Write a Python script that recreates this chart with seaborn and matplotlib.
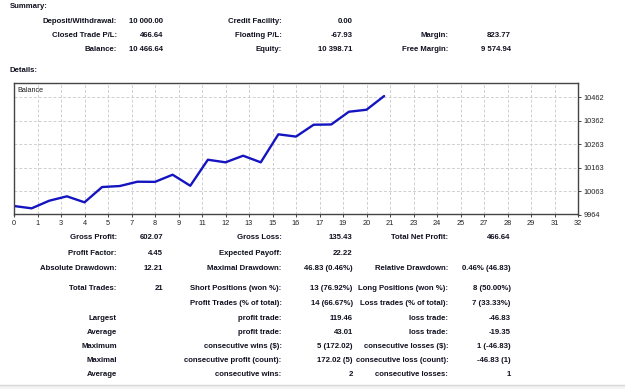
import numpy as np
import pandas as pd
import matplotlib
matplotlib.use("Agg")
import matplotlib.pyplot as plt
import seaborn as sns

# ---------------- data ----------------
trade_no = list(range(22))
balance = [10000.00, 9990.20, 10022.50, 10041.10, 10015.70, 10080.60, 10084.80,
           10103.10, 10102.50, 10132.80, 10085.97, 10196.40, 10185.40, 10213.40,
           10185.40, 10304.20, 10294.62, 10344.90, 10346.00, 10400.00, 10408.50,
           10466.64]

x_tick_labels = ["0", "1", "3", "4", "5", "7", "8", "9", "11", "12", "13", "15", "16",
                 "17", "19", "20", "21", "23", "24", "25", "27", "28", "29", "31", "32"]
y_tick_labels = ["9964", "10063", "10163", "10263", "10362", "10462"]
y_tick_values = [9964.0, 10063.6, 10163.2, 10262.8, 10362.4, 10462.0]

summary_rows = [
    ["Deposit/Withdrawal:", "10 000.00", "Credit Facility:", "0.00", "", ""],
    ["Closed Trade P/L:", "466.64", "Floating P/L:", "-67.93", "Margin:", "823.77"],
    ["Balance:", "10 466.64", "Equity:", "10 398.71", "Free Margin:", "9 574.94"],
]
details_rows = [
    ["Gross Profit:", "602.07", "Gross Loss:", "135.43", "Total Net Profit:", "466.64"],
    ["Profit Factor:", "4.45", "Expected Payoff:", "22.22", "", ""],
    ["Absolute Drawdown:", "12.21", "Maximal Drawdown:", "46.83 (0.46%)", "Relative Drawdown:", "0.46% (46.83)"],
    ["Total Trades:", "21", "Short Positions (won %):", "13 (76.92%)", "Long Positions (won %):", "8 (50.00%)"],
    ["", "", "Profit Trades (% of total):", "14 (66.67%)", "Loss trades (% of total):", "7 (33.33%)"],
    ["Largest", "", "profit trade:", "119.46", "loss trade:", "-46.83"],
    ["Average", "", "profit trade:", "43.01", "loss trade:", "-19.35"],
    ["Maximum", "", "consecutive wins ($):", "5 (172.02)", "consecutive losses ($):", "1 (-46.83)"],
    ["Maximal", "", "consecutive profit (count):", "172.02 (5)", "consecutive loss (count):", "-46.83 (1)"],
    ["Average", "", "consecutive wins:", "2", "consecutive losses:", "1"],
]

# ---------------- figure ----------------
sns.set_style("white")
plt.rcParams["font.family"] = ["Liberation Sans", "DejaVu Sans"]

W, H = 625, 389
fig = plt.figure(figsize=(W / 100, H / 100), dpi=100)
fig.patch.set_facecolor("white")

def fx(x):
    return x / W

def fy(y):
    return 1 - y / H

TXT = "#101020"
FS = 5.6

# summary block
fig.text(fx(10), fy(6.5), "Summary:", fontsize=FS, fontweight="bold", color=TXT, va="center", ha="left")
col_right = [116.7, 163.3, 281.7, 352.7, 448.3, 510.7]
for row, yy in zip(summary_rows, [21.7, 35.7, 49.3]):
    for txt, xr in zip(row, col_right):
        if txt:
            fig.text(fx(xr), fy(yy), txt, fontsize=FS, fontweight="bold", color=TXT,
                     va="center", ha="right")
fig.text(fx(10), fy(70), "Details:", fontsize=FS, fontweight="bold", color=TXT, va="center", ha="left")

# chart
ax_l, ax_r, ax_t, ax_b = 14, 578, 83, 214.5
ax = fig.add_axes([fx(ax_l), fy(ax_b), (ax_r - ax_l) / W, (ax_b - ax_t) / H])
df = pd.DataFrame({"trade": trade_no, "balance": balance})
sns.lineplot(data=df, x="trade", y="balance", ax=ax, color="#1414c0", linewidth=1.7)
ax.set_xlim(0, 32)
ax.set_ylim(9964, 10522)
ax.set_xlabel("")
ax.set_ylabel("")
xt = np.arange(len(x_tick_labels)) * 4 / 3
ax.set_xticks(xt)
ax.set_xticklabels(x_tick_labels)
ax.set_yticks(y_tick_values)
ax.set_yticklabels(y_tick_labels)
ax.yaxis.tick_right()
ax.tick_params(axis="both", labelsize=5.3, colors="#222222", length=2.5, width=0.6,
               pad=1.5, direction="out")
ax.tick_params(axis="x", bottom=True)
ax.tick_params(axis="y", right=True, left=False)
ax.grid(True, color="#cfcfcf", linestyle=(0, (3, 2)), linewidth=0.7)
for sp in ax.spines.values():
    sp.set_color("#444444")
    sp.set_linewidth(1.0)
ax.text(0.006, 0.97, "Balance", transform=ax.transAxes, fontsize=5.2, color="#222222",
        va="top", ha="left")

# details table
row_ys = [237.3, 253.3, 268.3, 288.3, 303.5, 318.3, 332.3, 346.0, 360.7, 375.0]
for row, yy in zip(details_rows, row_ys):
    for txt, xr in zip(row, col_right):
        if txt:
            fig.text(fx(xr), fy(yy), txt, fontsize=FS, fontweight="bold", color=TXT,
                     va="center", ha="right")

# bottom separator
fig.add_artist(plt.Line2D([0, 1], [fy(384.5), fy(384.5)], color="#d8d8d8", linewidth=1.0))
fig.add_artist(plt.Rectangle((0, 0), 1, fy(385.5), color="#f3f3f3", linewidth=0))

fig.savefig("out.png", dpi=100, facecolor="white")
